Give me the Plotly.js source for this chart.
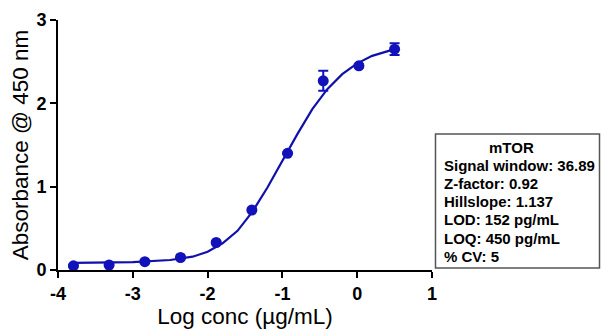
<!DOCTYPE html>
<html>
<head>
<meta charset="utf-8">
<script src="https://cdn.plot.ly/plotly-3.0.1.min.js"></script>
<style>html,body{margin:0;padding:0;background:#fff;}#chart{width:602px;height:331px;}</style>
</head>
<body>
<div id="chart"></div>
<script>
// Measured points (log concentration, absorbance)
const logConc = [-3.794, -3.317, -2.839, -2.362, -1.885, -1.408, -0.931, -0.454, 0.023, 0.5];
const absorbance = [0.05, 0.06, 0.10, 0.15, 0.33, 0.72, 1.40, 2.27, 2.45, 2.65];
const errorSD = [0.01, 0.01, 0.01, 0.01, 0.01, 0.01, 0.01, 0.12, 0.02, 0.07];

// Fitted curve
const curveX = [-3.794, -3.5, -3.0, -2.5, -2.2, -2.0, -1.8, -1.6, -1.4, -1.2, -1.0, -0.8, -0.6, -0.4, -0.2, 0.0, 0.2, 0.5];
const curveY = [0.085, 0.088, 0.095, 0.12, 0.16, 0.22, 0.32, 0.47, 0.70, 0.99, 1.31, 1.63, 1.93, 2.17, 2.35, 2.48, 2.57, 2.65];

const xTicks = [-4, -3, -2, -1, 0, 1];
const yTicks = [0, 1, 2, 3];

const boxTitle = "mTOR";
const boxLines = ["Signal window: 36.89", "Z-factor: 0.92", "Hillslope: 1.137", "LOD: 152 pg/mL", "LOQ: 450 pg/mL", "% CV: 5"];

const blue = "#1212bb";
const L = 58, R = 432, T = 20, B = 270;
const px = v => (v - L) / (R - L);
const py = v => (B - v) / (B - T);
const FONT = "Liberation Sans, Arial";

const traces = [
  {x: curveX, y: curveY, mode: "lines", line: {color: "#1010aa", width: 2.2}, hoverinfo: "skip"},
  {x: logConc, y: absorbance, mode: "markers", marker: {color: blue, size: 11, symbol: "circle"},
   error_y: {type: "data", array: errorSD, visible: true, color: blue, thickness: 2, width: 5}}
];

const annotations = [
  {xref: "paper", yref: "paper", x: px(511), y: py(147.7), xanchor: "center", yanchor: "middle",
   text: "<b>" + boxTitle + "</b>", showarrow: false, font: {family: FONT, size: 15, color: "#000"}}
];
const lineY = [165, 183.3, 201.6, 219.9, 238.2, 256.5];
boxLines.forEach((t, i) => annotations.push({
  xref: "paper", yref: "paper", x: px(442), y: py(lineY[i]), xanchor: "left", yanchor: "middle",
  text: "<b>" + t + "</b>", showarrow: false, font: {family: FONT, size: 15, color: "#000"}
}));

const layout = {
  width: 602, height: 331,
  margin: {l: L, r: 602 - R, t: T, b: 331 - B, pad: 0},
  paper_bgcolor: "#fff", plot_bgcolor: "#fff",
  showlegend: false,
  font: {family: FONT, color: "#000"},
  xaxis: {
    range: [-4, 1], tickvals: xTicks, ticktext: xTicks.map(String),
    showgrid: false, zeroline: false, showline: true, linecolor: "#000", linewidth: 2,
    ticks: "outside", ticklen: 6, tickwidth: 2, tickcolor: "#000",
    tickfont: {family: FONT, size: 18, color: "#000", weight: 700},
    title: {text: "Log conc (µg/mL)", font: {family: FONT, size: 22.5, color: "#000"}, standoff: 5},
    fixedrange: true
  },
  yaxis: {
    range: [0, 3], tickvals: yTicks, ticktext: yTicks.map(String),
    showgrid: false, zeroline: false, showline: true, linecolor: "#000", linewidth: 2,
    ticks: "outside", ticklen: 6, tickwidth: 2, tickcolor: "#000",
    tickfont: {family: FONT, size: 18, color: "#000", weight: 700},
    title: {text: "Absorbance @ 450 nm", font: {family: FONT, size: 22.5, color: "#000"}, standoff: 2},
    fixedrange: true
  },
  shapes: [
    {type: "rect", xref: "paper", yref: "paper", x0: px(435.5), x1: px(599.5), y0: py(268), y1: py(134),
     line: {color: "#555", width: 1.5}, fillcolor: "rgba(0,0,0,0)"}
  ],
  annotations: annotations
};

Plotly.newPlot("chart", traces, layout, {displayModeBar: false, staticPlot: true});
</script>
</body>
</html>
